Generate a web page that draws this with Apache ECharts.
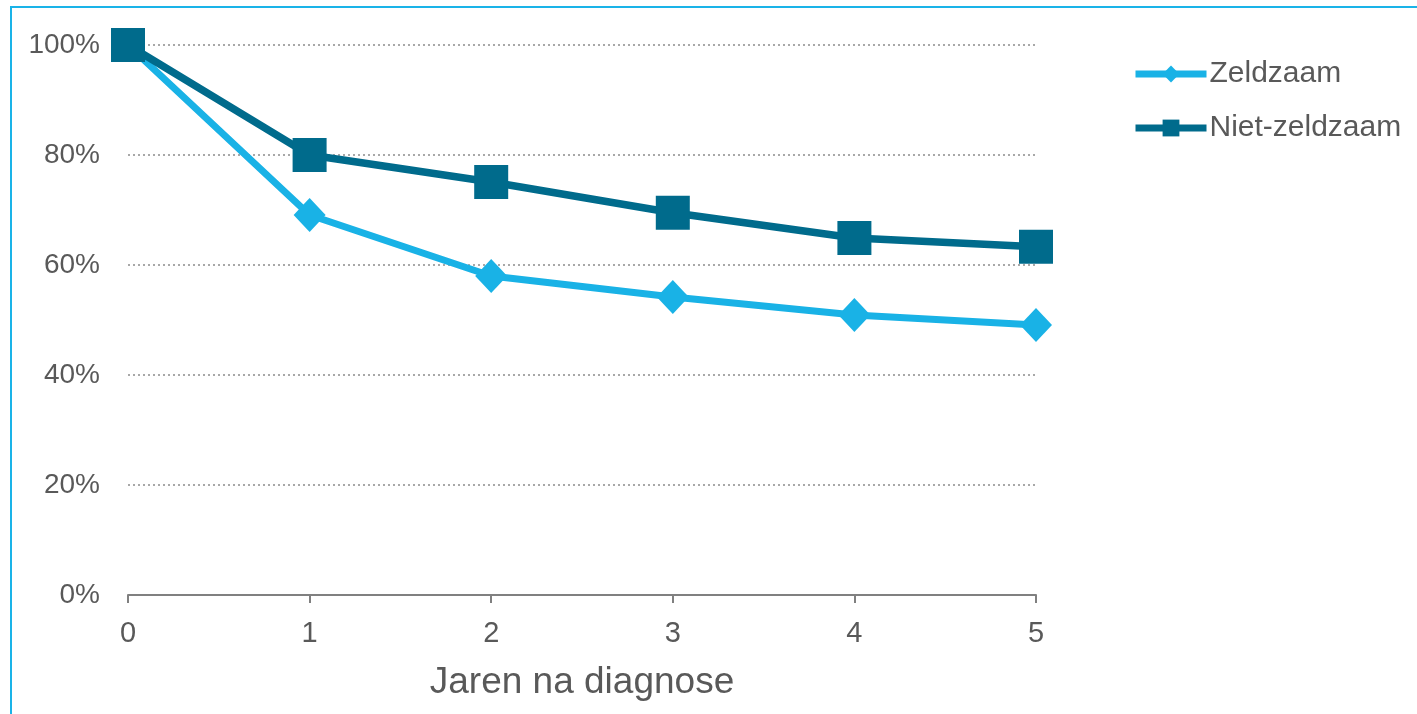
<!DOCTYPE html>
<html>
<head>
<meta charset="utf-8">
<script src="https://cdn.jsdelivr.net/npm/echarts@6/dist/echarts.min.js"></script>
<style>
  html, body { margin: 0; padding: 0; background: #fff; }
  #frame { position: absolute; left: 10px; top: 6px; width: 1420px; height: 720px;
           border-left: 2px solid #1ab3e8; border-top: 2px solid #1ab3e8; box-sizing: border-box; }
  #chart { position: absolute; left: 0; top: 0; width: 1417px; height: 714px; }
</style>
</head>
<body>
<div id="frame"></div>
<div id="chart"></div>
<script>
// Years since diagnosis
const years = ['0', '1', '2', '3', '4', '5'];
// Share (%) still alive per group
const zeldzaam = [100, 69.1, 58.0, 54.2, 50.9, 49.1];
const nietZeldzaam = [100, 80.0, 75.1, 69.5, 64.9, 63.3];
const seriesNames = ['Zeldzaam', 'Niet-zeldzaam'];
const xAxisTitle = 'Jaren na diagnose';

const textColor = '#595959';
const font = 'Liberation Sans, Arial, sans-serif';

const chart = echarts.init(document.getElementById('chart'), null, { renderer: 'canvas' });
chart.setOption({
  animation: false,
  grid: { left: 128, right: 381, top: 45, bottom: 119, containLabel: false },
  legend: {
    orient: 'vertical',
    left: 1127,
    top: 54,
    itemWidth: 71,
    itemHeight: 21,
    itemGap: 24,
    lineStyle: { width: 7 },
    textStyle: { fontSize: 30, color: textColor, fontFamily: font, padding: [0, 0, 0, -2] },
    data: seriesNames
  },
  xAxis: {
    type: 'category',
    data: years,
    boundaryGap: false,
    name: xAxisTitle,
    nameLocation: 'middle',
    nameGap: 69,
    nameTextStyle: { fontSize: 37, color: textColor, fontFamily: font },
    axisLine: { show: true, lineStyle: { color: '#808080', width: 2 } },
    axisTick: { show: true, length: 8, lineStyle: { color: '#808080', width: 2 } },
    axisLabel: { fontSize: 29, color: textColor, fontFamily: font, margin: 24 },
    splitLine: { show: false }
  },
  yAxis: {
    type: 'value',
    min: 0,
    max: 100,
    interval: 20,
    axisLine: { show: false },
    axisTick: { show: false },
    axisLabel: { fontSize: 28, color: textColor, fontFamily: font, margin: 28, formatter: '{value}%' },
    splitLine: { show: true, lineStyle: { color: '#8c8c8c', type: [2, 3], width: 1.5 } }
  },
  series: [
    {
      name: seriesNames[0],
      type: 'line',
      data: zeldzaam,
      symbol: 'diamond',
      symbolSize: [32, 34],
      z: 2,
      lineStyle: { color: '#19b2e6', width: 7 },
      itemStyle: { color: '#19b2e6' }
    },
    {
      name: seriesNames[1],
      type: 'line',
      data: nietZeldzaam,
      symbol: 'rect',
      symbolSize: 34,
      z: 3,
      lineStyle: { color: '#006b8c', width: 7.5 },
      itemStyle: { color: '#006b8c' }
    }
  ]
});
</script>
</body>
</html>
